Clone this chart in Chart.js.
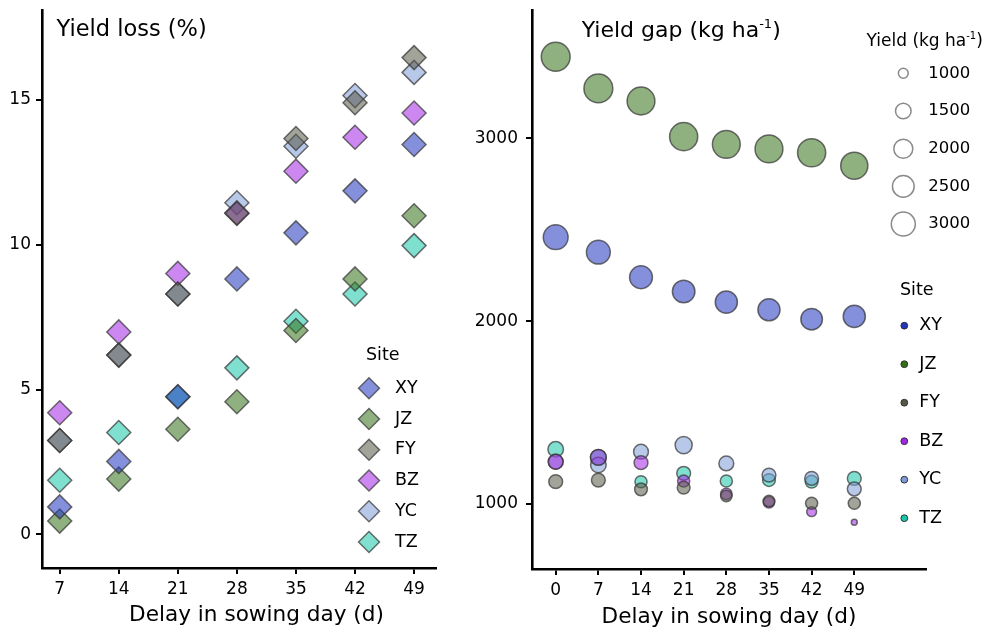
<!DOCTYPE html>
<html><head><meta charset="utf-8">
<script src="https://cdn.jsdelivr.net/npm/chart.js@4.4.1/dist/chart.umd.min.js"></script>
<style>
html,body{margin:0;padding:0;background:#fff;width:989px;height:627px;overflow:hidden;}
#l{position:absolute;left:0;top:0;width:470px;height:627px;}
#r{position:absolute;left:460px;top:0;width:529px;height:627px;}
</style></head><body>
<div id="l"><canvas id="cl" width="470" height="627"></canvas></div>
<div id="r"><canvas id="cr" width="529" height="627"></canvas></div>
<script>
// ---------- data ----------
const sites = ['XY','JZ','FY','BZ','YC','TZ'];
const lossDays = [7,14,21,28,35,42,49];
const gapDays = [0,7,14,21,28,35,42,49];
const lossTicks = [0,5,10,15];
const gapTicks = [1000,2000,3000];
const yieldBreaks = [1000,1500,2000,2500,3000];

const lossXY = [0.95,2.52,4.75,8.82,10.41,11.86,13.46];
const lossJZ = [0.46,1.91,3.63,4.58,7.04,8.82,11.0];
const lossFY = [3.24,6.19,8.30,11.08,13.67,14.90,16.46];
const lossBZ = [4.20,6.99,9.01,11.10,12.54,13.71,14.55];
const lossYC = [3.24,6.19,8.30,11.45,13.40,15.15,15.95];
const lossTZ = [1.87,3.52,4.75,5.75,7.36,8.30,9.97];

const gapXY = [2459,2377,2240,2162,2104,2062,2011,2026];
const gapJZ = [3446,3273,3204,3009,2967,2942,2921,2850];
const gapFY = [1122,1131,1080,1089,1044,1016,1004,1004];
const gapBZ = [1231,1255,1226,1126,1055,1010,958,900];
const gapYC = [1231,1213,1286,1322,1222,1158,1140,1082];
const gapTZ = [1299,1255,1122,1168,1126,1131,1122,1140];

const yieldXY = [3190,2950,2730,2670,2580,2580,2460,2580];
const yieldJZ = [4270,4270,3980,4060,3980,3980,4060,3780];
const yieldFY = [1300,1300,1200,1200,1100,1100,1145,1145];
const yieldBZ = [1410,1530,1300,1145,1100,1100,1000,900];
const yieldYC = [1410,1490,1410,1700,1410,1300,1300,1300];
const yieldTZ = [1490,1530,1145,1300,1145,1200,1200,1300];

const lossBySite = {XY:lossXY, JZ:lossJZ, FY:lossFY, BZ:lossBZ, YC:lossYC, TZ:lossTZ};
const gapBySite = {XY:gapXY, JZ:gapJZ, FY:gapFY, BZ:gapBZ, YC:gapYC, TZ:gapTZ};
const yieldBySite = {XY:yieldXY, JZ:yieldJZ, FY:yieldFY, BZ:yieldBZ, YC:yieldYC, TZ:yieldTZ};

// ---------- style ----------
const FONT = '"DejaVu Sans", sans-serif';
Chart.defaults.font.family = FONT;
Chart.defaults.color = '#000';
const baseRGB = {XY:[33,53,191], JZ:[51,111,22], FY:[85,88,70], BZ:[162,39,228], YC:[126,155,213], TZ:[24,199,170]};
const ALPHA = 0.55;
const fillOf = s => `rgba(${baseRGB[s].join(',')},${ALPHA})`;
const solidOf = s => `rgb(${baseRGB[s].join(',')})`;
const EDGE = 'rgba(55,55,55,0.72)';
function sizeFor(y){ const t = Math.max(0,(y-900)/3400); return 2.96 + 11.5*Math.sqrt(t); }

function axisCommon(fixedTicks, fmt, pad){
  return {
    type:'linear',
    afterBuildTicks: s => { s.ticks = fixedTicks.map(v => ({value:v})); },
    ticks:{ font:{size:17}, color:'#000', padding:pad, autoSkip:false, maxRotation:0, callback: fmt || (v => String(v)) },
    grid:{ display:true, drawOnChartArea:false, drawTicks:true, tickLength:6, color:'#000', lineWidth:2 },
    border:{ display:true, color:'#000', width:2.6 }
  };
}
function noPad(s){ s.paddingTop = 0; s.paddingBottom = 0; s.paddingLeft = 0; s.paddingRight = 0; }

function drawText(ctx, s, x, y, size, baseline, align){
  ctx.save(); ctx.font = `${size}px ${FONT}`; ctx.fillStyle = '#000';
  ctx.textAlign = align || 'left'; ctx.textBaseline = baseline || 'middle';
  ctx.fillText(s, x, y); ctx.restore();
}
function drawSup(ctx, parts, x, y){
  ctx.save(); ctx.fillStyle = '#000'; ctx.textBaseline = 'alphabetic'; ctx.textAlign = 'left';
  let cx = x;
  for (const [s, size, dy] of parts){
    ctx.font = `${size}px ${FONT}`;
    ctx.fillText(s, cx, y + dy);
    cx += ctx.measureText(s).width;
  }
  ctx.restore();
}
function diamond(ctx, x, y, r, fill, stroke, lw){
  ctx.save(); ctx.beginPath();
  ctx.moveTo(x - r, y); ctx.lineTo(x, y - r); ctx.lineTo(x + r, y); ctx.lineTo(x, y + r); ctx.closePath();
  ctx.fillStyle = fill; ctx.fill(); ctx.strokeStyle = stroke; ctx.lineWidth = lw; ctx.stroke(); ctx.restore();
}
function circle(ctx, x, y, r, fill, stroke, lw){
  ctx.save(); ctx.beginPath(); ctx.arc(x, y, r, 0, Math.PI*2);
  if (fill){ ctx.fillStyle = fill; ctx.fill(); }
  ctx.strokeStyle = stroke; ctx.lineWidth = lw; ctx.stroke(); ctx.restore();
}

// ---------- left chart ----------
const leftDecor = {
  id:'leftDecor',
  afterDraw(chart){
    const ctx = chart.ctx;
    drawText(ctx, 'Yield loss (%)', 56.5, 36, 22.5, 'alphabetic');
    drawText(ctx, 'Delay in sowing day (d)', 256.5, 615, 21.6, 'middle', 'center');
    drawText(ctx, 'Site', 366, 355, 17.5);
    sites.forEach((s, i) => {
      const y = 388.3 + i*30.75;
      diamond(ctx, 369, y, 10.5, fillOf(s), EDGE, 1.5);
      drawText(ctx, s, 395, y, 17.5);
    });
  }
};

const xL = axisCommon(lossDays, null, 5);
Object.assign(xL, { min:4.9, max:51.6, afterFit: s => { s.height = 59; noPad(s); } });
const yL = axisCommon(lossTicks, null, 5);
Object.assign(yL, { min:-1.16, max:18.08, afterFit: s => { s.width = 42; noPad(s); } });

new Chart(document.getElementById('cl'), {
  type:'scatter',
  data:{ datasets: sites.map(s => ({
    label:s,
    data: lossDays.map((d, i) => ({x:d, y:lossBySite[s][i]})),
    pointStyle:'rectRot', pointRadius:12, pointHoverRadius:12,
    backgroundColor: fillOf(s), borderColor: EDGE, borderWidth:1.5
  })) },
  options:{
    responsive:false, animation:false, events:[],
    layout:{ autoPadding:false, padding:{ left:0, right:34, top:10.7, bottom:0 } },
    plugins:{ legend:{display:false}, tooltip:{enabled:false} },
    scales:{ x:xL, y:yL }
  },
  plugins:[leftDecor]
});

// ---------- right chart ----------
const rightDecor = {
  id:'rightDecor',
  afterDraw(chart){
    const ctx = chart.ctx;
    drawSup(ctx, [['Yield gap (kg ha',22,0],['-1',13,-9],[')',22,0]], 121.7, 36.5);
    drawSup(ctx, [['Yield (kg ha',17,0],['-1',10,-7],[')',17,0]], 406.5, 46);
    yieldBreaks.forEach((b, i) => {
      const y = 73.3 + i*37.7;
      circle(ctx, 443.3, y, sizeFor(b), null, '#8a8a8a', 1.5);
      drawText(ctx, String(b), 468.3, y, 16.5);
    });
    drawText(ctx, 'Site', 440, 290.7, 17.5);
    sites.forEach((s, i) => {
      const y = 325.7 + i*38.5;
      circle(ctx, 444.3, y, 3.4, solidOf(s), '#333', 1);
      drawText(ctx, s, 459.3, y, 17.5);
    });
  }
};

const xR = axisCommon(gapDays, null, 5);
Object.assign(xR, { min:-3.89, max:60.77, afterFit: s => { s.height = 58; noPad(s); },
  title:{ display:true, text:'Delay in sowing day (d)', font:{size:21.6}, color:'#000', padding:{top:0,bottom:-3} } });
const yR = axisCommon(gapTicks, v => String(v), 8);
Object.assign(yR, { min:644.5, max:3701.7, afterFit: s => { s.width = 72; noPad(s); } });

new Chart(document.getElementById('cr'), {
  type:'scatter',
  data:{ datasets: sites.map(s => ({
    label:s,
    data: gapDays.map((d, i) => ({x:d, y:gapBySite[s][i]})),
    pointStyle:'circle',
    pointRadius: c => sizeFor(yieldBySite[s][c.dataIndex]),
    pointHoverRadius: c => sizeFor(yieldBySite[s][c.dataIndex]),
    backgroundColor: fillOf(s), borderColor: EDGE, borderWidth:1.5
  })) },
  options:{
    responsive:false, animation:false, events:[],
    layout:{ autoPadding:false, padding:{ left:0, right:63, top:10, bottom:0 } },
    plugins:{ legend:{display:false}, tooltip:{enabled:false} },
    scales:{ x:xR, y:yR }
  },
  plugins:[rightDecor]
});
</script>
</body></html>
